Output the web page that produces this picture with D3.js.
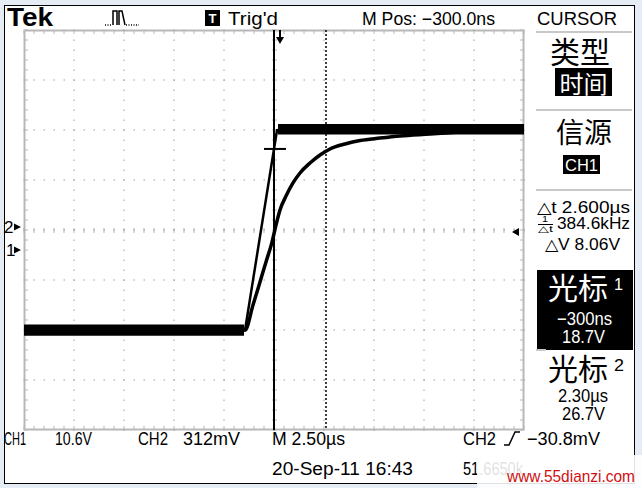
<!DOCTYPE html>
<html><head><meta charset="utf-8">
<script src="https://cdn.jsdelivr.net/npm/d3@7"></script>
<style>
body{margin:0;background:#e6ecf4}
svg{display:block}
text{font-family:"Liberation Sans",Arial,sans-serif}
.cjk{font-family:"Noto Sans CJK SC",sans-serif}
</style></head><body>
<svg id="c" width="642" height="488"></svg>
<script>
// ---- data ----
const timeDomain = [-12.8, 12.2];          // µs, 10 div at 2.50 µs/div, M Pos -300 ns
const divDomain = [-4, 4];                 // vertical divisions
const ch1Scale = 10.6, ch1Pos = -0.4;      // V/div, ground marker (div)
const ch2Scale = 0.312, ch2Pos = 0.06;     // V/div, ground marker (div)
const ch1Time  = [-12.8, -1.75, -0.15, 0.5, 12.2];
const ch1Volts = [-17.0, -17.0, 25.4, 25.6, 25.7];
const ch1BandTime = [[-12.8, -1.8], [-0.1, 12.2]];
const ch1BandLo = [-18.2, 24.5];
const ch1BandHi = [-15.8, 26.7];
const ch2Time  = [-12.8, -1.75, -1.35, -1.0, -0.7, -0.4, -0.2, 0.0, 0.3, 0.65, 1.0, 1.5, 2.0, 2.5, 3.25, 4.0, 5.0, 6.0, 7.5, 9.0, 10.5, 12.2];
const ch2Volts = [-0.643, -0.643, -0.487, -0.343, -0.218, -0.094, 0.012, 0.106, 0.193, 0.275, 0.337, 0.399, 0.449, 0.487, 0.518, 0.540, 0.555, 0.568, 0.580, 0.593, 0.605, 0.612];
const cursor1Time = -0.3, cursor2Time = 2.30;
const trigLevel = -0.0308, trigTime = 0;
const topTexts = [["Trig'd",228,25,50],["M Pos: \u2212300.0ns",362,25,133],["CURSOR",537,25,80]];
const bottomTexts = [["CH1",4,445,22],["10.6V",55,445,37],["CH2",138,445,30],["312mV",183,445,57],["M 2.50\u00b5s",272,445,73],["CH2",463,445,33],["\u221230.8mV",527,445,73],["20-Sep-11 16:43",272,475,141]];

// ---- scales ----
const L=24,R=524,T=30,B=430;
const x = d3.scaleLinear().domain(timeDomain).range([L,R]);
const xDiv = d3.scaleLinear().domain([-5,5]).range([L,R]);
const y = d3.scaleLinear().domain(divDomain).range([B,T]);
const y1 = v => y(ch1Pos + v/ch1Scale);
const y2 = v => y(ch2Pos + v/ch2Scale);

const svg = d3.select("#c");
svg.append("rect").attr("x",4.5).attr("y",5.5).attr("width",630).attr("height",478).attr("fill","#fff").attr("stroke","#000");

// graticule
const g = svg.append("g");
const gray="#b8b8b8";
g.append("rect").attr("x",L+0.5).attr("y",T+0.5).attr("width",R-L-1).attr("height",B-T-1).attr("fill","none").attr("stroke",gray).attr("stroke-width",2);
const minorX = d3.range(-5,5.001,0.2).map(d=>xDiv(d));
const minorY = d3.range(-4,4.001,0.2).map(d=>y(d));
minorX.forEach(px=>{
  g.append("line").attr("x1",px).attr("x2",px).attr("y1",T).attr("y2",T+4).attr("stroke",gray);
  g.append("line").attr("x1",px).attr("x2",px).attr("y1",B-4).attr("y2",B).attr("stroke",gray);
  g.append("line").attr("x1",px).attr("x2",px).attr("y1",y(0)-2).attr("y2",y(0)+3).attr("stroke",gray);
});
minorY.forEach(py=>{
  g.append("line").attr("x1",L).attr("x2",L+4).attr("y1",py).attr("y2",py).attr("stroke",gray);
  g.append("line").attr("x1",R-4).attr("x2",R).attr("y1",py).attr("y2",py).attr("stroke",gray);
  g.append("line").attr("x1",xDiv(0)-2).attr("x2",xDiv(0)+3).attr("y1",py).attr("y2",py).attr("stroke",gray);
});
d3.range(-4,5,1).forEach(d=>{
  const px=xDiv(d);
  minorY.forEach(py=>g.append("rect").attr("x",px-0.5).attr("y",py-0.5).attr("width",1).attr("height",1.5).attr("fill","#a0a0a0"));
});
d3.range(-3,4,1).forEach(d=>{
  const py=y(d);
  minorX.forEach(px=>g.append("rect").attr("x",px-0.5).attr("y",py-0.5).attr("width",1.5).attr("height",1).attr("fill","#a0a0a0"));
});

// traces
const area1 = d3.area().x(d=>x(d[0])).y0(d=>y1(d[1])).y1(d=>y1(d[2]));
ch1BandTime.forEach((tt,i)=>{
  svg.append("path").attr("d",area1(tt.map(t=>[t,ch1BandLo[i],ch1BandHi[i]]))).attr("fill","#000");
});
const line1 = d3.line().x(d=>x(d[0])).y(d=>y1(d[1]));
const line2 = d3.line().x(d=>x(d[0])).y(d=>y2(d[1])).curve(d3.curveMonotoneX);
svg.append("path").attr("d",line1(ch1Time.map((t,i)=>[t,ch1Volts[i]]))).attr("fill","none").attr("stroke","#000").attr("stroke-width",2.5);
svg.append("path").attr("d",line2(ch2Time.map((t,i)=>[t,ch2Volts[i]]))).attr("fill","none").attr("stroke","#000").attr("stroke-width",3.5);

// cursors
svg.append("line").attr("x1",x(cursor1Time)).attr("x2",x(cursor1Time)).attr("y1",T).attr("y2",B).attr("stroke","#000").attr("stroke-width",2);
svg.append("line").attr("x1",x(cursor2Time)).attr("x2",x(cursor2Time)).attr("y1",T).attr("y2",B).attr("stroke","#000").attr("stroke-width",1.5).attr("stroke-dasharray","2,2");
const c1v = d3.scaleLinear().domain(ch1Time).range(ch1Volts)(cursor1Time);
svg.append("line").attr("x1",x(cursor1Time)-10).attr("x2",x(cursor1Time)+12).attr("y1",y1(c1v)).attr("y2",y1(c1v)).attr("stroke","#000").attr("stroke-width",2);

// trigger markers
const tx=x(trigTime);
svg.append("line").attr("x1",tx).attr("x2",tx).attr("y1",T).attr("y2",T+7).attr("stroke","#000").attr("stroke-width",2);
svg.append("path").attr("d",`M${tx-4},${T+7}H${tx+4}L${tx},${T+14}Z`).attr("fill","#000");
const ty=y2(trigLevel);
svg.append("path").attr("d",`M${R-12},${ty}L${R-5},${ty-4}V${ty+4}Z`).attr("fill","#000");
[["2",y(ch2Pos),4],["1",y(ch1Pos),6]].forEach(([s,py,tx0])=>{
  svg.append("text").attr("x",tx0).attr("y",py+6).attr("font-size",17).text(s);
  svg.append("path").attr("d",`M14,${py-3.5}L21,${py}L14,${py+3.5}Z`).attr("fill","#000");
});

// header
svg.append("text").attr("x",7).attr("y",26).attr("font-family","Liberation Serif").attr("font-weight","bold").attr("font-size",26).attr("textLength",46).attr("lengthAdjust","spacingAndGlyphs").text("Tek");
svg.append("path").attr("d","M113,25V11H117V25M119,25V11H122L125,25").attr("fill","none").attr("stroke","#000").attr("stroke-width",1.5);
svg.append("path").attr("d","M105,25H112M126,25H139").attr("stroke","#000").attr("stroke-width",1.5).attr("stroke-dasharray","1,1.5");
svg.append("rect").attr("x",205).attr("y",10).attr("width",15).attr("height",16).attr("fill","#000");
svg.append("text").attr("x",212.5).attr("y",23).attr("text-anchor","middle").attr("font-weight","bold").attr("font-size",13).attr("fill","#fff").text("T");
topTexts.concat(bottomTexts).forEach(([s,px,py,w])=>{
  svg.append("text").attr("x",px).attr("y",py).attr("font-size",18).attr("textLength",w).attr("lengthAdjust","spacingAndGlyphs").text(s);
});
svg.append("path").attr("d","M504,445H509L515,432H520").attr("fill","none").attr("stroke","#000").attr("stroke-width",1.5);

// right panel
const sep = yy=>svg.append("line").attr("x1",536).attr("x2",632).attr("y1",yy).attr("y2",yy).attr("stroke","#c8c8c8").attr("stroke-width",2);
[32,110,190].forEach(sep);
const cj=(s,cx,cy,fs,fill)=>svg.append("text").attr("class","cjk").attr("x",cx).attr("y",cy).attr("text-anchor","middle").attr("dominant-baseline","central").attr("font-size",fs).attr("fill",fill||"#000").text(s);
cj("类型",580,50,30);
svg.append("rect").attr("x",555).attr("y",68).attr("width",57).attr("height",28).attr("fill","#000");
cj("时间",583.5,82,24,"#fff");
cj("信源",584,131,28);
svg.append("rect").attr("x",563).attr("y",155).attr("width",37).attr("height",19).attr("fill","#000");
svg.append("text").attr("x",581.5).attr("y",171).attr("text-anchor","middle").attr("font-size",17).attr("fill","#fff").attr("textLength",33).attr("lengthAdjust","spacingAndGlyphs").text("CH1");
const rt=(s,px,py,w,fs,fill)=>svg.append("text").attr("x",px).attr("y",py).attr("font-size",fs||17).attr("fill",fill||"#000").attr("textLength",w).attr("lengthAdjust","spacingAndGlyphs").text(s);
rt("\u25b3t 2.600\u00b5s",537,213,93,16);
rt("1",542,222,6,9);
svg.append("line").attr("x1",538).attr("x2",553).attr("y1",224.5).attr("y2",224.5).attr("stroke","#000");
rt("\u25b3t",538,232,15,9);
rt("384.6kHz",557,229,73,16);
rt("\u25b3V 8.06V",545,250,75,16);
svg.append("rect").attr("x",537).attr("y",270).attr("width",96).attr("height",80).attr("fill","#000");
svg.append("line").attr("x1",536).attr("x2",546).attr("y1",350).attr("y2",350).attr("stroke","#c8c8c8").attr("stroke-width",2);
cj("光标",578,286,30,"#fff");
rt("1",614,290,9,16,"#fff");
rt("\u2212300ns",557,325,55,18,"#fff");
rt("18.7V",562,343,43,18,"#fff");
cj("光标",578,367,30);
rt("2",614,371,10,16);
rt("2.30\u00b5s",558,402,50,18);
rt("26.7V",562,420,43,18);

// bottom frequency readout partially hidden by watermark
svg.append("text").attr("x",463).attr("y",475).attr("font-size",18).attr("textLength",60).attr("lengthAdjust","spacingAndGlyphs").text("51.6650k");
svg.append("rect").attr("x",477).attr("y",455).attr("width",165).attr("height",33).attr("fill","#fff").attr("opacity",0.88);
svg.append("text").attr("x",507).attr("y",482).attr("font-size",17).attr("fill","#d01010").attr("textLength",128).attr("lengthAdjust","spacingAndGlyphs").text("www.55dianzi.com");
</script>
</body></html>
